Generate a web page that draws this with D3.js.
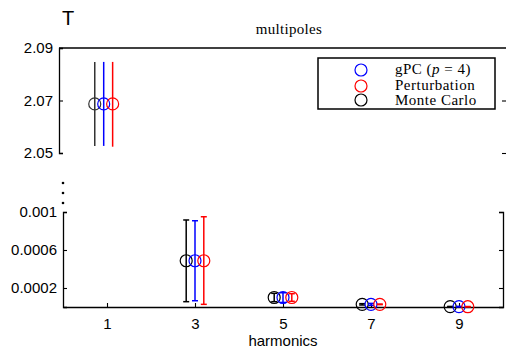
<!DOCTYPE html>
<html>
<head>
<meta charset="utf-8">
<script src="https://cdn.jsdelivr.net/npm/d3@7"></script>
<style>
  body { margin: 0; background: #fff; }
  svg { display: block; }
  .tick text { font-family: "Liberation Sans", Arial, sans-serif; font-size: 15px; fill: #000; }
</style>
</head>
<body>
<div id="chart"></div>
<script>
// harmonic number of each multipole
const harmonics = [1, 3, 5, 7, 9]

// Monte Carlo
const mcMean = [2.0687, 0.000487, 0.000100, 0.000028, 0.000004]
const mcLow  = [2.0527, 0.000056, 0.000056, 0.000021, 0.000002]
const mcHigh = [2.0847, 0.000916, 0.000144, 0.000035, 0.000006]
// gPC (p = 4)
const gpcMean = [2.0687, 0.000487, 0.000100, 0.000028, 0.000004]
const gpcLow  = [2.0527, 0.000066, 0.000048, 0.000018, 0.000001]
const gpcHigh = [2.0847, 0.000908, 0.000150, 0.000038, 0.000007]
// Perturbation
const pertMean = [2.0687, 0.000487, 0.000100, 0.000028, 0.000003]
const pertLow  = [2.0524, 0.000028, 0.000060, 0.000025, 0.000001]
const pertHigh = [2.0847, 0.000950, 0.000140, 0.000031, 0.000005]

const xTicks = [1, 3, 5, 7, 9]
const topTicks = [2.05, 2.07, 2.09]
const botTicks = [0.0002, 0.0006, 0.001]

const series = [
  {name: "Monte Carlo", color: "#000", mean: mcMean, low: mcLow, high: mcHigh, shift: -0.2},
  {name: "gPC", color: "#0000ff", mean: gpcMean, low: gpcLow, high: gpcHigh, shift: 0},
  {name: "Perturbation", color: "#ff0000", mean: pertMean, low: pertLow, high: pertHigh, shift: 0.2}
]

const width = 506, height = 350
const svg = d3.select("#chart").append("svg")
  .attr("width", width).attr("height", height)

// two panels, broken y axis
const xTop = d3.scaleLinear().domain([0, 10]).range([59, 506])
const yTop = d3.scaleLinear().domain([2.05, 2.09]).range([153, 48])
const xBot = d3.scaleLinear().domain([0, 10]).range([63, 503])
const yBot = d3.scaleLinear().domain([0, 0.001]).range([307, 212])

function styleAxis(g) {
  g.selectAll("path").attr("stroke", "#000").attr("stroke-width", 1.3)
  g.selectAll("line").attr("stroke", "#000").attr("stroke-width", 1.1)
}

// top panel axes
svg.append("g").attr("transform", "translate(59,0)")
  .call(d3.axisLeft(yTop).tickValues(topTicks).tickSize(-4).tickPadding(6).tickFormat(d => d.toFixed(2)))
  .call(styleAxis)
svg.append("g").attr("transform", "translate(506,0)")
  .call(d3.axisRight(yTop).tickValues([2.05, 2.07]).tickSize(-4).tickSizeOuter(0).tickFormat(""))
  .call(styleAxis)
  .call(g => g.select(".domain").remove())
svg.append("line")
  .attr("x1", xTop(0)).attr("x2", xTop(10))
  .attr("y1", yTop(2.09)).attr("y2", yTop(2.09))
  .attr("stroke", "#000").attr("stroke-width", 1.3)

// bottom panel axes
svg.append("g").attr("transform", "translate(63,0)")
  .call(d3.axisLeft(yBot).tickValues(botTicks).tickSize(-4).tickPadding(6).tickFormat(d => String(+d.toFixed(4))))
  .call(styleAxis)
svg.append("g").attr("transform", "translate(503,0)")
  .call(d3.axisRight(yBot).tickValues(botTicks).tickSize(-4).tickFormat(""))
  .call(styleAxis)
svg.append("g").attr("transform", "translate(0,307)")
  .call(d3.axisBottom(xBot).tickValues(xTicks).tickSize(-4).tickSizeOuter(0).tickPadding(11))
  .call(styleAxis)

// break marks
svg.selectAll("circle.brk").data([183, 193, 203]).join("circle")
  .attr("class", "brk").attr("cx", 63).attr("cy", d => d).attr("r", 1.3).attr("fill", "#000")

// error bars and markers
series.forEach(s => {
  harmonics.forEach((h, i) => {
    const top = s.mean[i] > 1
    const x = (top ? xTop : xBot)(h + s.shift)
    const y = top ? yTop : yBot
    const col = (top && s.name === "Monte Carlo") ? "#333" : s.color
    svg.append("line")
      .attr("x1", x).attr("x2", x)
      .attr("y1", y(s.low[i])).attr("y2", y(s.high[i]))
      .attr("stroke", col).attr("stroke-width", 1.5)
    if (!top) {
      [s.low[i], s.high[i]].forEach(v => {
        svg.append("line")
          .attr("x1", x - 3).attr("x2", x + 3)
          .attr("y1", y(v)).attr("y2", y(v))
          .attr("stroke", col).attr("stroke-width", 1.5)
      })
    }
    svg.append("circle")
      .attr("cx", x).attr("cy", y(s.mean[i])).attr("r", 6)
      .attr("fill", "none").attr("stroke", col).attr("stroke-width", 1.2)
  })
})

// legend
const legend = svg.append("g")
legend.append("rect")
  .attr("x", 318).attr("y", 58).attr("width", 177).attr("height", 51)
  .attr("fill", "#fff").attr("stroke", "#000").attr("stroke-width", 1.5)
const legItems = [
  {label: "gPC", color: "#0000ff", y: 70, base: 74},
  {label: "Perturbation", color: "#ff0000", y: 86, base: 90},
  {label: "Monte Carlo", color: "#000", y: 100, base: 105}
]
legItems.forEach(d => {
  legend.append("circle").attr("cx", 361).attr("cy", d.y).attr("r", 6)
    .attr("fill", "none").attr("stroke", d.color).attr("stroke-width", 1.2)
  const t = legend.append("text").attr("x", 395).attr("y", d.base)
    .attr("font-family", "'Liberation Serif', 'Times New Roman', serif").attr("font-size", 15)
    .attr("letter-spacing", 0.5)
  t.append("tspan").text(d.label)
  if (d.label === "gPC") {
    t.append("tspan").text(" (")
    t.append("tspan").attr("font-style", "italic").text("p")
    t.append("tspan").text(" = 4)")
  }
})

// titles
svg.append("text").attr("x", 289).attr("y", 34).attr("text-anchor", "middle")
  .attr("font-family", "'Liberation Serif', 'Times New Roman', serif").attr("font-size", 15)
  .attr("letter-spacing", 0.3)
  .text("multipoles")
svg.append("text").attr("x", 62).attr("y", 25)
  .attr("font-family", "'Liberation Sans', Arial, sans-serif").attr("font-size", 20)
  .text("T")
svg.append("text").attr("x", 283).attr("y", 346).attr("text-anchor", "middle")
  .attr("font-family", "'Liberation Sans', Arial, sans-serif").attr("font-size", 15)
  .text("harmonics")
</script>
</body>
</html>
